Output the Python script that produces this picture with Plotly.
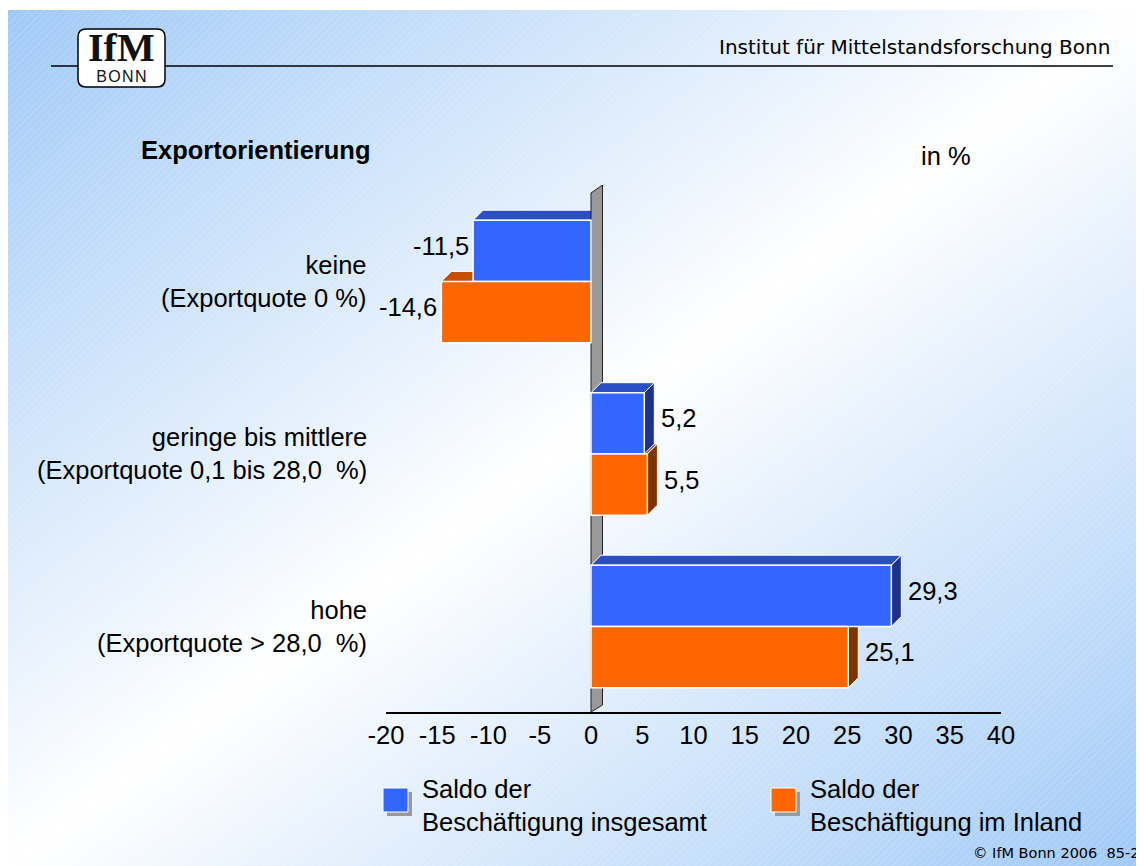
"""Beschäftigungssaldo nach Exportorientierung (IfM Bonn)."""
import base64

import plotly.graph_objects as go

# --- data -------------------------------------------------------------------
categories = [
    "keine<br>(Exportquote 0 %)",
    "geringe bis mittlere<br>(Exportquote 0,1 bis 28,0\u00a0 %)",
    "hohe<br>(Exportquote &gt; 28,0\u00a0 %)",
]
saldo_insgesamt = [-11.5, 5.2, 29.3]
saldo_inland = [-14.6, 5.5, 25.1]
series_names = ["Saldo der<br>Beschäftigung insgesamt", "Saldo der<br>Beschäftigung im Inland"]
x_ticks = [-20, -15, -10, -5, 0, 5, 10, 15, 20, 25, 30, 35, 40]

# --- geometry / style ---------------------------------------------------------
# the page adds an 8px body margin, so the figure starts at (8, 8)
OX, OY = 8, 8
W, H = 1144 - OX, 866 - OY
L, R, T, B = 386 - OX, 143, 185 - OY, 154
PW, PH = W - L - R, H - T - B
XR = [-20, 40]
YR = [-0.496, 2.559]
KX = PW / (XR[1] - XR[0])  # px per x unit
KY = PH / (YR[1] - YR[0])  # px per y unit
BAR_W = 0.355
DX, DY = 10, 10  # 3D depth in px
dxd, dyd = DX / KX, DY / KY

BLUE, BLUE_TOP, BLUE_SIDE = "#3366ff", "#2a4fc4", "#1c3387"
ORANGE, ORANGE_TOP, ORANGE_SIDE = "#ff6600", "#c44f00", "#7f3300"
FONT = "Liberation Sans, Arial, sans-serif"
FS = 25.5


def fx(px):
    """page pixel x -> paper x"""
    return (px - OX - L) / PW


def fy(py):
    """page pixel y -> paper y"""
    return (H - B - (py - OY)) / PH


def fmt(v):
    return f"{v:.1f}".replace(".", ",")


positions = [len(categories) - 1 - i for i in range(len(categories))]

# background gradient with fine diagonal hatching
svg = (
    "<svg xmlns='http://www.w3.org/2000/svg' width='1136' height='856'>"
    "<defs><linearGradient id='g' x1='0' y1='0' x2='1' y2='1'>"
    "<stop offset='0' stop-color='#a0c9f7'/><stop offset='0.5' stop-color='#ffffff'/>"
    "<stop offset='1' stop-color='#a0c9f7'/></linearGradient>"
    "<pattern id='p' width='5' height='5' patternUnits='userSpaceOnUse' patternTransform='rotate(45)'>"
    "<line x1='0' y1='0' x2='0' y2='5' stroke='#ffffff' stroke-opacity='0.3' stroke-width='1'/>"
    "</pattern></defs>"
    "<rect width='100%' height='100%' fill='url(#g)'/>"
    "<rect width='100%' height='100%' fill='url(#p)'/></svg>"
)
bg_src = "data:image/svg+xml;base64," + base64.b64encode(svg.encode()).decode()

fig = go.Figure()
bar_specs = [
    (saldo_inland, -BAR_W, ORANGE, ORANGE_TOP, ORANGE_SIDE),
    (saldo_insgesamt, 0.0, BLUE, BLUE_TOP, BLUE_SIDE),
]
for vals, off, col, _, _ in bar_specs[::-1]:
    fig.add_trace(
        go.Bar(
            x=vals, y=positions, orientation="h", width=BAR_W, offset=off,
            marker=dict(color=col, line=dict(color="white", width=1.5)),
            hoverinfo="x", showlegend=False,
        )
    )


def face_path(pts):
    return "M " + " L ".join(f"{x},{y}" for x, y in pts) + " Z"


neg_faces, pos_faces = [], []
for vals, off, col, top_col, side_col in bar_specs:
    for v, p in zip(vals, positions):
        y0, y1 = p + off, p + off + BAR_W
        a, b = min(v, 0), max(v, 0)
        top = dict(
            type="path", xref="x", yref="y", layer="below",
            path=face_path([(a, y1), (b, y1), (b + dxd, y1 + dyd), (a + dxd, y1 + dyd)]),
            fillcolor=top_col, line=dict(color="white", width=1),
        )
        if v < 0:
            neg_faces.append(top)
        else:
            side = dict(
                type="path", xref="x", yref="y", layer="below",
                path=face_path([(v, y0), (v + dxd, y0 + dyd), (v + dxd, y1 + dyd), (v, y1)]),
                fillcolor=side_col, line=dict(color="white", width=1),
            )
            pos_faces += [top, side]

wall = dict(
    type="path", xref="x", yref="y", layer="below",
    path=face_path([(0, YR[0]), (1.15 * dxd, YR[0] + 0.7 * dyd),
                    (1.15 * dxd, YR[1]), (0, YR[1] - 0.8 * dyd)]),
    fillcolor="#999999", line=dict(color="#222222", width=1),
)

shapes = neg_faces + [wall] + pos_faces

# header line and logo box
shapes.append(dict(type="line", xref="paper", yref="paper", x0=fx(51), x1=fx(1113),
                   y0=fy(66), y1=fy(66), line=dict(color="black", width=1.5)))
shapes.append(dict(
    type="path", xref="paper", yref="paper", xsizemode="pixel", ysizemode="pixel",
    xanchor=fx(78), yanchor=fy(87),
    path="M 8,0 L 79,0 Q 87,0 87,8 L 87,50 Q 87,58 79,58 L 8,58 Q 0,58 0,50 L 0,8 Q 0,0 8,0 Z",
    fillcolor="white", line=dict(color="black", width=1.5),
))

# legend squares
annotations = []
for (sx, tx), name, col in zip([(383, 420), (771, 808)], series_names, [BLUE, ORANGE]):
    shapes.append(dict(type="rect", xref="paper", yref="paper", x0=fx(sx + 4), x1=fx(sx + 29),
                       y0=fy(792), y1=fy(816), fillcolor="#999999", line=dict(width=0)))
    shapes.append(dict(type="rect", xref="paper", yref="paper", x0=fx(sx), x1=fx(sx + 25),
                       y0=fy(788), y1=fy(812), fillcolor=col, line=dict(color="white", width=1)))
    annotations.append(dict(xref="paper", yref="paper", x=fx(tx), y=fy(805), text=name,
                            xanchor="left", yanchor="middle", align="left", showarrow=False,
                            font=dict(family=FONT, size=FS, color="black")))

# category labels
for cat, p in zip(categories, positions):
    annotations.append(dict(xref="paper", yref="y", x=fx(369), y=p, text=cat,
                            xanchor="right", yanchor="middle", align="right", showarrow=False,
                            font=dict(family=FONT, size=FS, color="black")))

# value labels
for vals, off, *_ in bar_specs:
    for v, p in zip(vals, positions):
        annotations.append(dict(
            x=v, y=p + off + BAR_W / 2, text=fmt(v), showarrow=False,
            xanchor="left" if v >= 0 else "right", yanchor="middle",
            xshift=DX + 5 if v >= 0 else -2, yshift=DY / 2,
            font=dict(family=FONT, size=FS, color="black"),
        ))

# logo text: one annotation, line pitch set by the small base font
logo_text = (
    "<span style='font-family:Liberation Serif, serif; font-size:40px'><b>IfM</b></span>"
    "<br>B\u200aO\u200aN\u200aN"
)

annotations += [
    dict(xref="paper", yref="paper", x=fx(139), y=fy(150), text="<b>Exportorientierung</b>",
         xanchor="left", yanchor="middle", showarrow=False,
         font=dict(family=FONT, size=FS, color="black")),
    dict(xref="paper", yref="paper", x=fx(919), y=fy(156), text="in %",
         xanchor="left", yanchor="middle", showarrow=False,
         font=dict(family=FONT, size=FS, color="black")),
    dict(xref="paper", yref="paper", x=fx(1112), y=fy(47),
         text="Institut für Mittelstandsforschung Bonn",
         xanchor="right", yanchor="middle", showarrow=False,
         font=dict(family="DejaVu Sans, sans-serif", size=20, color="black")),
    dict(xref="paper", yref="paper", x=fx(1141), y=fy(853), text="© IfM Bonn 2006\u00a0 85-2",
         xanchor="right", yanchor="middle", showarrow=False,
         font=dict(family="DejaVu Sans, sans-serif", size=14.5, color="black")),
    dict(xref="paper", yref="paper", x=fx(121.5), y=fy(55.5), text=logo_text,
         xanchor="center", yanchor="middle", align="center", showarrow=False,
         font=dict(family=FONT, size=16, color="#111111")),
]

fig.update_layout(
    width=W, height=H,
    margin=dict(l=L, r=R, t=T, b=B, pad=0),
    barmode="overlay",
    paper_bgcolor="white",
    plot_bgcolor="rgba(0,0,0,0)",
    showlegend=False,
    shapes=shapes,
    annotations=annotations,
    images=[dict(source=bg_src, xref="paper", yref="paper", x=fx(8), y=fy(10),
                 sizex=1136 / PW, sizey=856 / PH, xanchor="left", yanchor="top",
                 sizing="stretch", layer="below")],
    font=dict(family=FONT, size=FS, color="black"),
)
fig.update_xaxes(range=XR, tickvals=x_ticks, ticktext=[str(t) for t in x_ticks],
                 showgrid=False, zeroline=False, showline=True, linecolor="black",
                 linewidth=1.5, ticks="", tickfont=dict(family=FONT, size=FS, color="black"))
fig.update_yaxes(range=YR, showgrid=False, zeroline=False, showticklabels=False,
                 showline=False, ticks="")

fig.write_html("out.html")
